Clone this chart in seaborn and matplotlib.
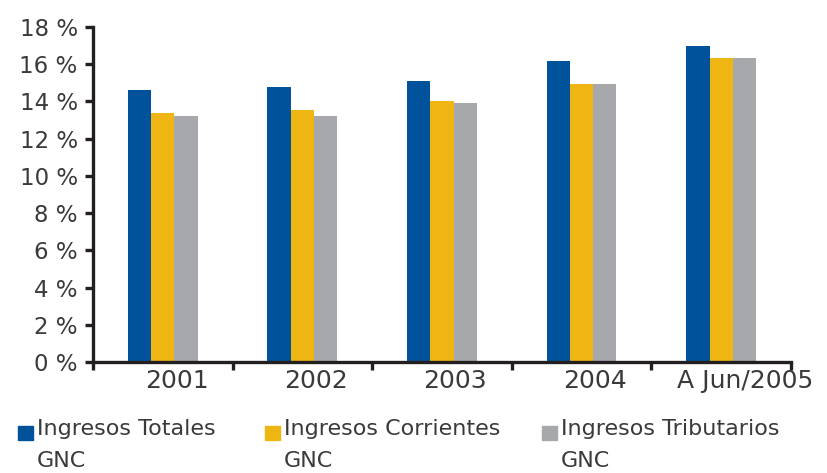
import pandas as pd
import matplotlib.pyplot as plt
import matplotlib.transforms as mtransforms
from matplotlib.patches import Rectangle
import seaborn as sns

# Datos (% del PIB)
periodos = ['2001', '2002', '2003', '2004', 'A Jun/2005']
series = ['Ingresos Totales\nGNC', 'Ingresos Corrientes\nGNC', 'Ingresos Tributarios\nGNC']
totales = [14.6, 14.8, 15.1, 16.2, 17.0]
corrientes = [13.4, 13.55, 14.0, 14.95, 16.35]
tributarios = [13.2, 13.2, 13.9, 14.95, 16.35]
ticks_y = [0, 2, 4, 6, 8, 10, 12, 14, 16, 18]

colores = ['#00529b', '#efb512', '#a7a8ab']
color_ejes = '#231f20'
color_texto = '#3a3a3a'


def armar_tabla():
    """Arma la tabla larga para seaborn."""
    filas = []
    for serie, valores in zip(series, [totales, corrientes, tributarios]):
        for periodo, v in zip(periodos, valores):
            filas.append({'Periodo': periodo, 'Serie': serie, 'Valor': v})
    return pd.DataFrame(filas)


def main():
    df = armar_tabla()
    sns.set_style('white')
    plt.rcParams['font.family'] = ['DejaVu Sans']

    fig = plt.figure(figsize=(8.28, 4.73), dpi=100)
    ax = fig.add_axes([0.1123, 0.2347, 0.843, 0.7082])

    sns.barplot(data=df, x='Periodo', y='Valor', hue='Serie', order=periodos,
                hue_order=series, palette=colores, width=0.5, saturation=1,
                linewidth=0, ax=ax, legend=False)

    ax.set_xlim(-0.5, len(periodos) - 0.5)
    ax.set_ylim(0, 18)
    ax.set_xlabel('')
    ax.set_ylabel('')

    # Ejes
    for lado in ['top', 'right']:
        ax.spines[lado].set_visible(False)
    for lado in ['left', 'bottom']:
        ax.spines[lado].set_linewidth(2.4)
        ax.spines[lado].set_color(color_ejes)

    ax.set_yticks(ticks_y)
    ax.set_yticklabels([f'{v} %' for v in ticks_y])
    ax.tick_params(axis='y', left=True, direction='out', length=6, width=2.4,
                   color=color_ejes, labelsize=16.5, labelcolor=color_texto, pad=5)

    # marcas del eje x entre categorías, etiquetas sin marca
    ax.set_xticks([i - 0.5 for i in range(len(periodos) + 1)], minor=True)
    ax.tick_params(axis='x', which='minor', bottom=True, direction='out',
                   length=6, width=2.4, color=color_ejes)
    ax.tick_params(axis='x', which='major', bottom=True, length=0, labelsize=18,
                   labelcolor=color_texto, pad=5)
    desplazamientos = [14, 14, 13, 13, 24]
    for lbl, dx in zip(ax.get_xticklabels(), desplazamientos):
        lbl.set_transform(lbl.get_transform() +
                          mtransforms.ScaledTranslation(dx / 100, 0, fig.dpi_scale_trans))

    ax.grid(False)

    # Leyenda manual (cuadro alineado con la primera línea)
    x_leyenda = [18, 265, 542]
    for serie, color, x in zip(series, colores, x_leyenda):
        fig.add_artist(Rectangle((x / 828, 1 - 440 / 473), 15 / 828, 14 / 473,
                                 transform=fig.transFigure, color=color))
        fig.text((x + 19) / 828, 1 - 419 / 473, serie, ha='left', va='top',
                 fontsize=16, color=color_texto, linespacing=1.75)

    fig.savefig('out.png', dpi=100)
    plt.close(fig)


if __name__ == '__main__':
    main()
